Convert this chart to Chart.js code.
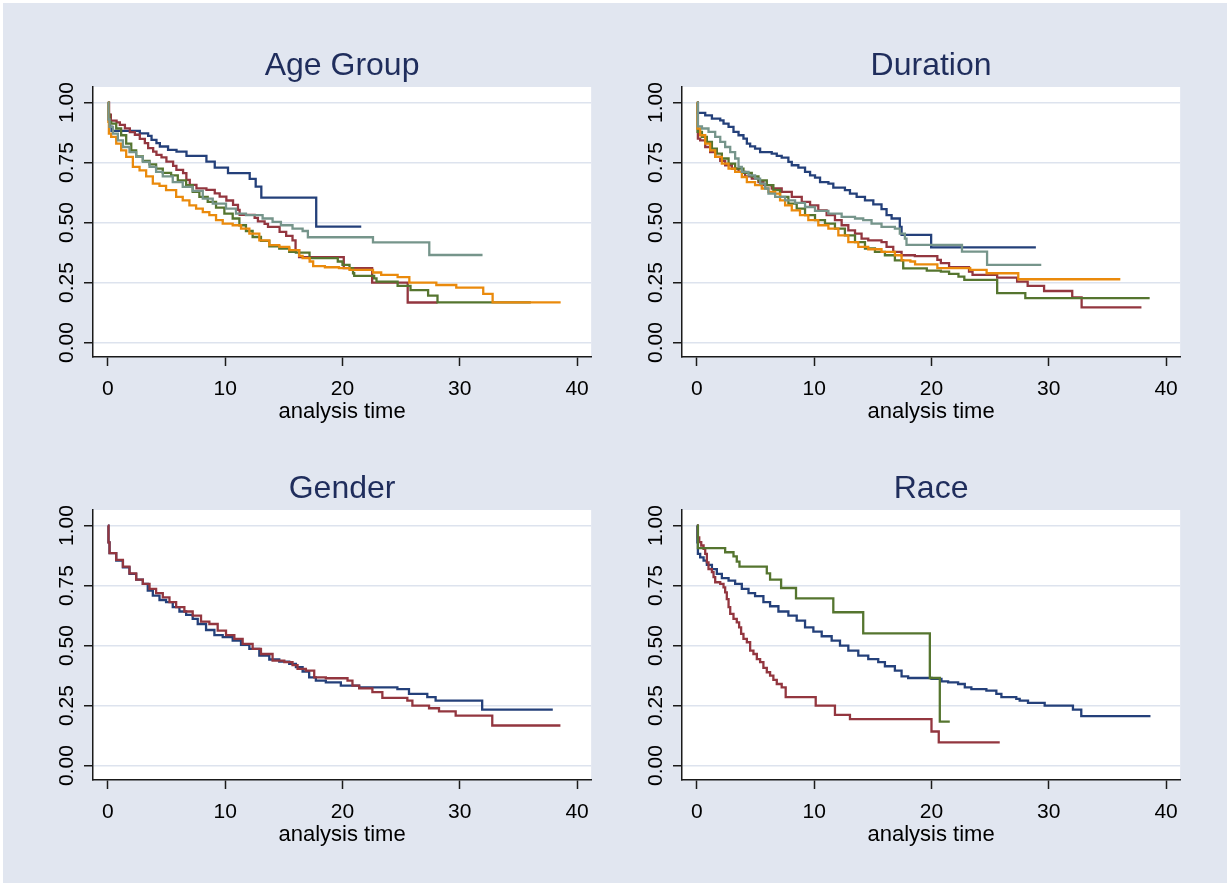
<!DOCTYPE html>
<html>
<head>
<meta charset="utf-8">
<script src="https://cdn.jsdelivr.net/npm/chart.js@4.4.1/dist/chart.umd.min.js"></script>
<style>
html,body{margin:0;padding:0;background:#ffffff;}
body{width:1230px;height:886px;position:relative;overflow:hidden;}
#bg{position:absolute;left:3px;top:3px;width:1224px;height:880px;background:#e1e6f0;}
canvas{position:absolute;}
</style>
</head>
<body>
<div id="bg"></div>
<canvas id="c1" width="570" height="400" style="left:30px;top:30px"></canvas>
<canvas id="c2" width="570" height="400" style="left:619px;top:30px"></canvas>
<canvas id="c3" width="570" height="400" style="left:30px;top:453px"></canvas>
<canvas id="c4" width="570" height="400" style="left:619px;top:453px"></canvas>
<script>
// ---------- tick values / labels ----------
const timeTicks = [0, 10, 20, 30, 40];
const timeTickLabels = ['0', '10', '20', '30', '40'];
const survTicks = [0, 0.25, 0.5, 0.75, 1];
const survTickLabels = ['0.00', '0.25', '0.50', '0.75', '1.00'];
const panelTitles = ['Age Group', 'Duration', 'Gender', 'Race'];
const xAxisTitle = 'analysis time';

// ---------- Age Group: [analysis time, survival] ----------
const ageGroup1 = [[0,1],[0.05,0.93],[0.15,0.90],[0.31,0.882],[2.72,0.872],[3.43,0.861],[3.72,0.845],[4.14,0.831],[4.43,0.817],[5.13,0.803],[5.85,0.796],[6.70,0.778],[8.40,0.754],[9.11,0.729],[10.24,0.706],[12.09,0.682],[12.6,0.65],[13.08,0.604],[17.76,0.483],[21.6,0.483]];
const ageGroup2 = [[0,1],[0.1,0.95],[0.25,0.925],[0.74,0.918],[1.02,0.907],[1.45,0.893],[1.87,0.877],[2.30,0.866],[2.72,0.849],[3.15,0.831],[3.43,0.810],[3.86,0.796],[4.14,0.782],[4.57,0.772],[4.99,0.754],[5.56,0.736],[5.84,0.720],[6.41,0.706],[6.69,0.678],[6.98,0.657],[7.55,0.643],[8.40,0.636],[9.11,0.622],[9.53,0.608],[10.10,0.592],[10.67,0.574],[11.09,0.553],[11.23,0.532],[12.51,0.520],[12.79,0.505],[13.36,0.495],[13.65,0.482],[14.64,0.461],[15.20,0.445],[15.74,0.426],[16.0,0.385],[16.3,0.356],[20.11,0.31],[22.53,0.25],[25.56,0.167],[28.11,0.167]];
const ageGroup3 = [[0,1],[0.05,0.95],[0.14,0.919],[0.28,0.9125],[0.71,0.892],[1.13,0.864],[1.56,0.829],[1.99,0.801],[2.41,0.776],[2.98,0.757],[3.55,0.743],[4.11,0.725],[4.68,0.707],[5.39,0.697],[5.96,0.676],[6.67,0.656],[7.23,0.628],[7.80,0.607],[8.51,0.586],[9.22,0.5625],[9.93,0.5375],[10.64,0.517],[11.21,0.489],[11.77,0.465],[12.34,0.440],[13.05,0.424],[13.76,0.401],[14.61,0.392],[15.46,0.378],[16.03,0.375],[17.19,0.352],[19.6,0.338],[20.0,0.324],[20.6,0.31],[20.9,0.289],[21.0,0.278],[22.7,0.268],[22.9,0.254],[24.7,0.236],[25.8,0.219],[27.3,0.196],[28.1,0.168],[36.06,0.168]];
const ageGroup4 = [[0,1],[0.04,0.92],[0.085,0.871],[0.28,0.857],[0.71,0.829],[1.13,0.801],[1.56,0.774],[2.13,0.732],[2.70,0.718],[3.26,0.693],[3.83,0.6625],[4.40,0.653],[4.96,0.635],[5.82,0.607],[6.38,0.593],[6.95,0.572],[7.52,0.558],[8.09,0.544],[8.65,0.531],[9.22,0.51],[9.79,0.496],[10.64,0.489],[11.35,0.475],[12.06,0.454],[12.91,0.426],[13.76,0.406],[14.61,0.399],[15.46,0.385],[16.31,0.361],[16.6,0.352],[17.2,0.338],[17.5,0.319],[18.5,0.314],[19.7,0.31],[20.6,0.303],[22.6,0.292],[23.3,0.282],[24.7,0.273],[25.7,0.25],[28.0,0.240],[29.7,0.229],[32.0,0.203],[32.8,0.168],[38.6,0.168]];
const ageGroup5 = [[0,1],[0.05,0.93],[0.14,0.899],[0.43,0.871],[0.85,0.843],[1.28,0.815],[1.84,0.794],[2.41,0.774],[2.98,0.753],[3.55,0.732],[4.11,0.711],[4.68,0.693],[5.53,0.669],[6.38,0.649],[7.23,0.632],[8.09,0.6],[8.94,0.579],[10.07,0.558],[10.92,0.5375],[11.77,0.531],[13.19,0.517],[14.04,0.503],[14.75,0.489],[15.74,0.475],[16.6,0.465],[17.05,0.439],[22.6,0.418],[27.4,0.365],[31.94,0.365]];

// ---------- Duration ----------
const duration1 = [[0,1],[0.085,0.957],[0.71,0.947],[1.28,0.933],[1.99,0.926],[2.27,0.9125],[2.70,0.899],[3.12,0.878],[3.55,0.864],[3.97,0.85],[4.26,0.829],[4.54,0.818],[4.96,0.808],[5.39,0.794],[6.38,0.7875],[6.81,0.778],[7.23,0.771],[7.80,0.753],[8.09,0.739],[8.65,0.729],[9.22,0.711],[9.65,0.697],[10.07,0.6875],[10.50,0.669],[11.21,0.6625],[11.63,0.646],[12.62,0.635],[13.05,0.621],[13.62,0.607],[14.33,0.593],[15.04,0.576],[15.74,0.556],[16.17,0.531],[16.60,0.517],[17.30,0.482],[17.45,0.449],[19.97,0.397],[28.9,0.397]];
const duration2 = [[0,1],[0.085,0.85],[0.28,0.843],[0.71,0.815],[1.13,0.794],[1.56,0.774],[1.99,0.757],[2.41,0.739],[2.98,0.725],[3.55,0.711],[4.11,0.693],[4.68,0.683],[5.25,0.669],[5.67,0.656],[6.38,0.642],[7.23,0.628],[8.09,0.607],[8.94,0.586],[9.65,0.572],[10.35,0.551],[11.06,0.531],[11.77,0.51],[12.34,0.489],[12.91,0.468],[13.48,0.454],[14.04,0.433],[14.61,0.426],[15.74,0.419],[16.17,0.399],[16.74,0.378],[17.45,0.364],[18.58,0.36],[20.5,0.345],[20.8,0.331],[21.5,0.314],[23.2,0.296],[23.5,0.282],[25.6,0.271],[27.3,0.254],[28.2,0.236],[29.6,0.215],[32.0,0.188],[32.8,0.147],[37.9,0.147]];
const duration3 = [[0,1],[0.057,0.878],[0.43,0.857],[0.85,0.836],[1.28,0.808],[1.70,0.7875],[2.13,0.767],[2.70,0.746],[3.26,0.725],[3.97,0.707],[4.68,0.693],[5.25,0.676],[5.96,0.656],[6.52,0.635],[7.09,0.607],[7.80,0.579],[8.51,0.558],[9.22,0.531],[10.07,0.51],[10.92,0.496],[11.77,0.475],[12.62,0.447],[13.48,0.419],[14.33,0.392],[15.18,0.378],[16.03,0.364],[16.88,0.343],[17.59,0.309],[19.6,0.3],[20.8,0.296],[21.5,0.286],[22.3,0.275],[22.8,0.261],[25.6,0.206],[28.0,0.185],[38.6,0.185]];
const duration4 = [[0,1],[0.057,0.892],[0.28,0.864],[0.71,0.829],[1.13,0.801],[1.56,0.774],[2.13,0.746],[2.70,0.725],[3.26,0.711],[3.83,0.69],[4.26,0.669],[4.96,0.656],[5.53,0.642],[6.10,0.628],[6.67,0.621],[7.09,0.593],[7.52,0.572],[8.09,0.551],[8.79,0.531],[9.50,0.51],[10.35,0.489],[11.21,0.475],[12.06,0.447],[12.91,0.419],[13.76,0.399],[14.61,0.389],[15.74,0.378],[16.88,0.364],[17.45,0.343],[18.2,0.338],[18.6,0.326],[20.5,0.31],[23.3,0.303],[24.7,0.289],[27.4,0.264],[36.1,0.264]];
const duration5 = [[0,1],[0.085,0.901],[0.43,0.892],[0.99,0.878],[1.56,0.857],[1.99,0.836],[2.41,0.815],[2.84,0.794],[3.26,0.767],[3.55,0.732],[3.83,0.711],[4.40,0.697],[4.96,0.683],[5.39,0.6625],[5.82,0.642],[6.10,0.621],[6.67,0.607],[7.52,0.593],[8.37,0.582],[9.22,0.565],[10.07,0.549],[11.21,0.5375],[12.34,0.524],[13.48,0.517],[14.18,0.51],[14.89,0.496],[15.74,0.482],[16.88,0.475],[17.30,0.454],[17.73,0.433],[17.87,0.407],[22.6,0.379],[24.74,0.324],[29.36,0.324]];

// ---------- Gender ----------
const gender1 = [[0,1],[0.05,0.93],[0.14,0.885],[0.71,0.854],[1.28,0.826],[1.84,0.799],[2.41,0.775],[2.98,0.757],[3.40,0.729],[3.83,0.708],[4.40,0.69],[4.96,0.681],[5.53,0.66],[6.10,0.642],[6.67,0.628],[7.23,0.611],[7.66,0.590],[8.37,0.565],[9.08,0.544],[9.79,0.535],[10.64,0.521],[11.35,0.503],[12.06,0.486],[12.91,0.458],[13.76,0.442],[14.61,0.433],[15.46,0.424],[16.03,0.41],[16.6,0.392],[17.16,0.368],[17.73,0.354],[18.58,0.347],[19.86,0.333],[21.42,0.326],[24.68,0.319],[25.67,0.299],[27.23,0.285],[27.94,0.271],[31.91,0.233],[37.93,0.233]];
const gender2 = [[0,1],[0.05,0.93],[0.14,0.885],[0.71,0.857],[1.28,0.829],[1.84,0.801],[2.41,0.775],[2.98,0.757],[3.55,0.736],[4.11,0.719],[4.68,0.701],[5.25,0.681],[5.82,0.66],[6.52,0.642],[7.23,0.625],[7.94,0.6],[8.65,0.590],[9.36,0.5625],[10.07,0.544],[10.78,0.528],[11.49,0.507],[12.34,0.486],[13.05,0.465],[14.04,0.4375],[15.04,0.431],[15.74,0.419],[16.17,0.403],[16.88,0.396],[17.59,0.368],[18.58,0.364],[20.43,0.354],[20.85,0.333],[21.42,0.322],[22.55,0.306],[23.40,0.282],[25.53,0.271],[25.96,0.25],[27.38,0.239],[28.23,0.226],[29.65,0.208],[32.77,0.167],[38.58,0.167]];

// ---------- Race ----------
const race1 = [[0,1],[0.04,0.93],[0.085,0.882],[0.28,0.868],[0.57,0.854],[0.85,0.836],[1.28,0.819],[1.70,0.799],[2.13,0.781],[2.70,0.771],[3.26,0.757],[3.83,0.736],[4.40,0.719],[4.96,0.706],[5.67,0.681],[6.24,0.664],[6.95,0.642],[7.80,0.625],[8.51,0.604],[9.22,0.576],[9.93,0.558],[10.64,0.539],[11.49,0.521],[12.20,0.5],[12.91,0.479],[13.76,0.458],[14.61,0.444],[15.46,0.431],[16.03,0.414],[16.88,0.396],[17.45,0.372],[18.01,0.365],[20.0,0.361],[20.85,0.351],[21.42,0.347],[22.27,0.34],[22.84,0.326],[23.40,0.319],[24.68,0.3125],[25.53,0.299],[25.96,0.285],[27.23,0.278],[27.52,0.271],[28.23,0.261],[29.65,0.25],[32.06,0.233],[32.77,0.206],[38.67,0.206]];
const race2 = [[0,1],[0.085,0.951],[0.2,0.931],[0.37,0.917],[0.57,0.903],[0.71,0.882],[0.85,0.847],[0.99,0.819],[1.28,0.806],[1.42,0.785],[1.56,0.764],[1.99,0.757],[2.27,0.743],[2.41,0.722],[2.55,0.694],[2.70,0.66],[2.84,0.632],[3.12,0.611],[3.40,0.597],[3.60,0.576],[3.77,0.549],[3.97,0.528],[4.26,0.514],[4.54,0.479],[4.82,0.465],[5.11,0.444],[5.39,0.431],[5.67,0.407],[5.96,0.389],[6.24,0.375],[6.52,0.357],[6.81,0.340],[7.23,0.326],[7.57,0.285],[10.13,0.25],[11.77,0.211],[13.05,0.194],[20.0,0.142],[20.62,0.097],[25.82,0.097]];
const race3 = [[0,1],[0.085,0.906],[2.41,0.889],[3.12,0.872],[3.40,0.85],[3.63,0.829],[5.96,0.801],[6.24,0.775],[7.18,0.74],[8.45,0.697],[11.63,0.639],[14.18,0.551],[19.86,0.365],[20.71,0.183],[21.56,0.183]];

// ---------- styling ----------
const seriesColors = ['#24407a', '#93363f', '#55752f', '#ea8a0c', '#76958b'];
const FONT = '"Liberation Sans", Arial, Helvetica, sans-serif';
const titleColor = '#1f2d5c';
const axisColor = '#1a1a1a';
const gridColor = '#dde3ee';
const plotBg = '#ffffff';
const X_MIN = -1.27, X_MAX = 41.2;
const Y_MIN = -0.06, Y_MAX = 1.065;

const plotBackground = {
  id: 'plotBackground',
  beforeDraw(chart) {
    const { ctx, chartArea: a } = chart;
    ctx.save();
    ctx.fillStyle = plotBg;
    ctx.fillRect(a.left, a.top, a.right - a.left, a.bottom - a.top);
    ctx.restore();
  }
};

function makeChart(id, title, seriesList) {
  const n = seriesList.length;
  return new Chart(document.getElementById(id), {
    type: 'line',
    data: {
      datasets: seriesList.map((s, i) => ({
        label: title + ' ' + (i + 1),
        data: s.map(p => ({ x: p[0], y: p[1] })),
        borderColor: seriesColors[i],
        backgroundColor: seriesColors[i],
        borderWidth: 2.3,
        pointRadius: 0,
        stepped: true,
        fill: false,
        borderJoinStyle: 'miter',
        order: n - i
      }))
    },
    plugins: [plotBackground],
    options: {
      responsive: false,
      animation: false,
      events: [],
      layout: { padding: { left: 0, right: 8, top: 0, bottom: 0 } },
      plugins: {
        legend: { display: false },
        tooltip: { enabled: false },
        title: {
          display: true, text: title, color: titleColor, fullSize: false,
          font: { family: FONT, size: 32, weight: 'normal', lineHeight: 1 },
          padding: { top: 20, bottom: 5 }
        }
      },
      scales: {
        x: {
          type: 'linear', min: X_MIN, max: X_MAX,
          afterBuildTicks: sc => { sc.ticks = timeTicks.map(v => ({ value: v })); },
          afterFit: sc => { sc.height = 73; },
          grid: { drawOnChartArea: false, drawTicks: true, tickLength: 9, tickColor: axisColor, tickWidth: 1.5 },
          border: { display: true, color: axisColor, width: 1.5 },
          ticks: {
            color: '#000', font: { family: FONT, size: 21 }, padding: 11,
            maxRotation: 0, minRotation: 0, autoSkip: false,
            callback: v => timeTickLabels[timeTicks.indexOf(v)]
          },
          title: {
            display: true, text: xAxisTitle, color: '#000',
            font: { family: FONT, size: 22 }, padding: { top: 0, bottom: 5 }
          }
        },
        y: {
          type: 'linear', min: Y_MIN, max: Y_MAX,
          afterBuildTicks: sc => { sc.ticks = survTicks.map(v => ({ value: v })); },
          afterFit: sc => { sc.width = 63; },
          grid: { color: gridColor, lineWidth: 1.5, drawTicks: true, tickLength: 9, tickColor: axisColor, tickWidth: 1.5 },
          border: { display: true, color: axisColor, width: 1.5 },
          ticks: {
            color: '#000', font: { family: FONT, size: 21 }, padding: -4,
            minRotation: 90, maxRotation: 90, crossAlign: 'center', autoSkip: false,
            callback: v => survTickLabels[survTicks.indexOf(v)]
          }
        }
      }
    }
  });
}

makeChart('c1', panelTitles[0], [ageGroup1, ageGroup2, ageGroup3, ageGroup4, ageGroup5]);
makeChart('c2', panelTitles[1], [duration1, duration2, duration3, duration4, duration5]);
makeChart('c3', panelTitles[2], [gender1, gender2]);
makeChart('c4', panelTitles[3], [race1, race2, race3]);
</script>
</body>
</html>
